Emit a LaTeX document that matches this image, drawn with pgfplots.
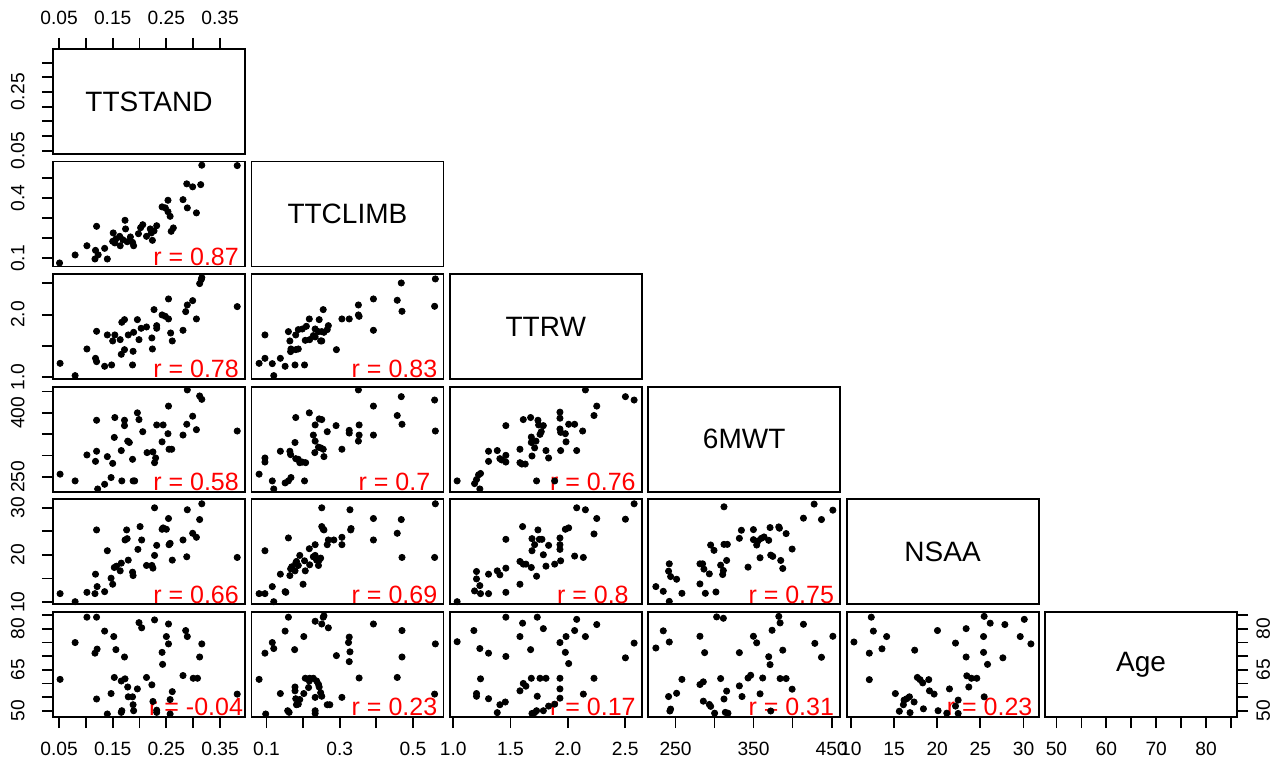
\documentclass[border=0pt]{standalone}
\usepackage{fontspec}
\setmainfont{Liberation Sans}
\usepackage{pgfplots}
\pgfplotsset{compat=1.18}
\pgfplotsset{
  base/.style={scale only axis, width=96pt, height=52.5pt, anchor=north west,
    axis line style={line width=0.9pt, black},
    every tick/.style={line width=0.9pt, black},
    tick align=outside, major tick length=5.5pt,
    xtick=\empty, ytick=\empty,
    tick label style={font=\fontsize{9.6}{11}\selectfont, inner sep=1pt}},
  lefty/.style={ytick pos=left, yticklabel pos=left, yticklabel shift=7.5pt, yticklabel style={rotate=90, anchor=south}},
  righty/.style={ytick pos=right, yticklabel pos=right, yticklabel shift=3pt, yticklabel style={rotate=90, anchor=north}},
  botx/.style={xtick pos=left, xticklabel pos=left, xticklabel shift=6pt, xticklabel style={anchor=north}},
  topx/.style={xtick pos=right, xticklabel pos=right, xticklabel shift=5.5pt, xticklabel style={anchor=south}},
  xTS/.style={xmin=0.0388, xmax=0.3965}, yTS/.style={ymin=0.0388, ymax=0.3965},
  xTC/.style={xmin=0.059, xmax=0.583}, yTC/.style={ymin=0.059, ymax=0.583},
  xTR/.style={xmin=0.97, xmax=2.645}, yTR/.style={ymin=0.97, ymax=2.645},
  xSM/.style={xmin=215, xmax=461}, ySM/.style={ymin=215, ymax=461},
  xNS/.style={xmin=9.5, xmax=31.75}, yNS/.style={ymin=9.5, ymax=31.75},
  xAG/.style={xmin=47.7, xmax=86.2}, yAG/.style={ymin=47.7, ymax=86.2},
  pts/.style={only marks, mark=*, mark size=1.55pt, black, mark options={draw=black, fill=black}},
}
\newcommand\rlab[1]{\node[anchor=base, text=red, font=\fontsize{12.5}{14}\selectfont, inner sep=0pt] at (rel axis cs:0.745,0.012) {r = #1};}
\newcommand\diag[1]{\node[font=\fontsize{14}{16}\selectfont] at (rel axis cs:0.5,0.5) {#1};}
\begin{document}
\begin{tikzpicture}
\path[use as bounding box] (0,0) rectangle (642.5pt,382.5pt);
% ---------------- row 1
\begin{axis}[base, at={(26.5pt,358pt)}, xTS, yTS, topx, lefty,
  xtick={0.05,0.1,0.15,0.2,0.25,0.3,0.35}, xticklabels={0.05,{},0.15,{},0.25,{},0.35},
  ytick={0.05,0.1,0.15,0.2,0.25,0.3,0.35}, yticklabels={0.05,{},{},{},0.25,{},{}}]
\diag{TTSTAND}
\end{axis}
% ---------------- row 2
\begin{axis}[base, at={(26.5pt,301.7pt)}, xTS, yTC, lefty,
  ytick={0.1,0.2,0.3,0.4,0.5}, yticklabels={0.1,{},{},0.4,{}}]
\addplot[pts] coordinates {(0.051,0.077)(0.080,0.117)(0.102,0.163)(0.120,0.260)(0.118,0.140)(0.117,0.097)(0.123,0.118)(0.135,0.150)(0.140,0.097)(0.151,0.227)(0.150,0.185)(0.156,0.197)(0.163,0.210)(0.164,0.163)(0.173,0.290)(0.174,0.247)(0.177,0.183)(0.183,0.207)(0.187,0.180)(0.189,0.163)(0.198,0.223)(0.202,0.253)(0.206,0.268)(0.213,0.210)(0.220,0.247)(0.224,0.190)(0.227,0.237)(0.232,0.263)(0.242,0.357)(0.248,0.352)(0.253,0.390)(0.253,0.333)(0.257,0.310)(0.259,0.235)(0.263,0.252)(0.281,0.393)(0.288,0.472)(0.289,0.352)(0.299,0.457)(0.306,0.327)(0.314,0.468)(0.316,0.565)(0.382,0.563)(0.154,0.177)(0.169,0.193)(0.222,0.227)};
\rlab{0.87}
\end{axis}
\begin{axis}[base, at={(125.7pt,301.7pt)}, xTC, yTC]
\diag{TTCLIMB}
\end{axis}
% ---------------- row 3
\begin{axis}[base, at={(26.5pt,245.4pt)}, xTS, yTR, lefty,
  ytick={1.0,1.5,2.0,2.5}, yticklabels={1.0,{},2.0,{}}]
\addplot[pts] coordinates {(0.052,1.223)(0.080,1.027)(0.102,1.452)(0.118,1.303)(0.120,1.250)(0.120,1.734)(0.135,1.176)(0.140,1.676)(0.148,1.197)(0.150,1.580)(0.154,1.676)(0.164,1.601)(0.166,1.367)(0.167,1.878)(0.172,1.920)(0.172,1.441)(0.179,1.676)(0.187,1.197)(0.188,1.415)(0.189,1.718)(0.196,1.920)(0.199,1.601)(0.203,1.782)(0.213,1.803)(0.223,1.628)(0.224,1.452)(0.227,2.080)(0.232,1.782)(0.232,1.824)(0.242,1.995)(0.248,1.973)(0.254,2.250)(0.254,1.931)(0.258,1.707)(0.261,1.580)(0.281,1.750)(0.286,2.048)(0.289,2.154)(0.299,2.223)(0.306,1.931)(0.312,2.495)(0.315,2.559)(0.316,2.590)(0.382,2.128)};
\rlab{0.78}
\end{axis}
\begin{axis}[base, at={(125.7pt,245.4pt)}, xTC, yTR]
\addplot[pts] coordinates {(0.080,1.223)(0.096,1.303)(0.096,1.676)(0.116,1.218)(0.120,1.027)(0.138,1.303)(0.151,1.176)(0.160,1.729)(0.164,1.580)(0.166,1.410)(0.167,1.452)(0.178,1.197)(0.180,1.676)(0.180,1.441)(0.187,1.452)(0.187,1.761)(0.198,1.771)(0.204,1.197)(0.206,1.590)(0.217,1.931)(0.209,1.814)(0.218,1.601)(0.228,1.665)(0.233,1.771)(0.233,1.644)(0.242,1.729)(0.244,1.920)(0.248,1.580)(0.251,1.580)(0.251,1.729)(0.255,2.080)(0.257,1.718)(0.266,1.761)(0.269,1.824)(0.291,1.441)(0.306,1.931)(0.326,1.931)(0.351,2.154)(0.351,1.995)(0.353,1.973)(0.392,2.250)(0.392,1.750)(0.457,2.229)(0.468,2.505)(0.470,2.053)(0.559,2.133)(0.561,2.569)};
\rlab{0.83}
\end{axis}
\begin{axis}[base, at={(224.9pt,245.4pt)}, xTR, yTR]
\diag{TTRW}
\end{axis}
% ---------------- row 4
\begin{axis}[base, at={(26.5pt,189.1pt)}, xTS, ySM, lefty,
  ytick={250,300,350,400,450}, yticklabels={250,{},{},400,{}}]
\addplot[pts] coordinates {(0.052,256.3)(0.080,240.5)(0.102,301.3)(0.118,286.3)(0.120,310.0)(0.120,382.6)(0.122,221.6)(0.135,232.6)(0.140,297.4)(0.147,248.4)(0.150,281.6)(0.153,342.4)(0.154,389.0)(0.166,311.6)(0.167,240.5)(0.172,382.6)(0.172,370.0)(0.178,333.7)(0.181,330.5)(0.187,291.1)(0.188,240.5)(0.191,240.5)(0.196,400.0)(0.199,384.2)(0.206,355.8)(0.214,306.8)(0.225,308.4)(0.228,283.2)(0.230,294.2)(0.232,371.6)(0.244,371.6)(0.242,332.1)(0.253,351.1)(0.254,415.8)(0.255,314.7)(0.260,314.7)(0.281,347.9)(0.288,373.2)(0.289,453.7)(0.299,392.1)(0.306,360.5)(0.312,439.5)(0.316,431.6)(0.382,357.4)};
\rlab{0.58}
\end{axis}
\begin{axis}[base, at={(125.7pt,189.1pt)}, xTC, ySM]
\addplot[pts] coordinates {(0.080,256.3)(0.096,294.2)(0.096,284.7)(0.116,240.5)(0.120,221.6)(0.138,310.0)(0.151,235.8)(0.160,240.5)(0.164,310.0)(0.166,302.1)(0.167,248.4)(0.178,330.5)(0.180,292.6)(0.180,389.0)(0.187,291.1)(0.191,283.2)(0.198,284.7)(0.204,240.5)(0.207,283.2)(0.217,400.0)(0.228,347.9)(0.232,306.8)(0.233,371.6)(0.233,333.7)(0.242,319.5)(0.244,385.8)(0.248,317.9)(0.251,384.2)(0.255,314.7)(0.257,297.4)(0.266,355.8)(0.290,370.0)(0.306,314.7)(0.326,359.0)(0.326,352.6)(0.353,347.9)(0.351,333.7)(0.353,371.6)(0.392,415.8)(0.392,347.9)(0.351,453.7)(0.457,393.7)(0.468,437.9)(0.470,373.2)(0.559,430.0)(0.561,357.4)};
\rlab{0.7}
\end{axis}
\begin{axis}[base, at={(224.9pt,189.1pt)}, xTR, ySM]
\addplot[pts] coordinates {(1.034,240.5)(1.186,234.2)(1.203,243.7)(1.221,254.7)(1.238,257.9)(1.232,221.6)(1.308,286.3)(1.308,310.0)(1.384,311.6)(1.407,292.6)(1.424,289.5)(1.459,300.5)(1.459,284.7)(1.459,370.0)(1.582,314.7)(1.582,283.2)(1.599,280.0)(1.611,384.2)(1.628,280.0)(1.675,389.0)(1.681,343.2)(1.681,330.5)(1.687,298.9)(1.710,317.9)(1.722,333.7)(1.739,382.6)(1.745,371.6)(1.757,349.5)(1.768,355.8)(1.786,370.0)(1.727,240.5)(1.809,311.6)(1.832,294.2)(1.885,240.5)(1.931,401.6)(1.931,387.4)(1.931,362.1)(1.937,354.2)(1.937,311.6)(1.978,351.1)(1.984,332.1)(2.007,373.2)(2.059,373.2)(2.077,311.6)(2.129,357.4)(2.153,453.7)(2.228,393.7)(2.252,415.8)(2.502,437.9)(2.578,430.0)};
\rlab{0.76}
\end{axis}
\begin{axis}[base, at={(324.1pt,189.1pt)}, xSM, ySM]
\diag{6MWT}
\end{axis}
% ---------------- row 5
\begin{axis}[base, at={(26.5pt,132.8pt)}, xTS, yNS, lefty,
  ytick={10,15,20,25,30}, yticklabels={10,{},20,{},30}]
\addplot[pts] coordinates {(0.052,11.78)(0.080,10.07)(0.102,12.06)(0.118,15.90)(0.117,11.78)(0.120,25.28)(0.121,13.27)(0.135,12.20)(0.140,20.87)(0.147,15.05)(0.150,13.77)(0.153,17.32)(0.157,17.60)(0.164,16.61)(0.166,18.24)(0.173,23.15)(0.176,25.28)(0.177,23.43)(0.179,18.88)(0.187,16.33)(0.188,15.61)(0.197,21.16)(0.201,25.99)(0.204,23.15)(0.213,17.75)(0.223,17.75)(0.225,17.18)(0.228,19.88)(0.228,29.97)(0.232,22.01)(0.242,25.42)(0.244,25.71)(0.250,25.42)(0.254,27.70)(0.255,22.15)(0.257,22.44)(0.261,18.88)(0.281,23.15)(0.288,19.59)(0.289,29.55)(0.299,24.57)(0.306,23.72)(0.312,27.48)(0.316,30.82)(0.382,19.45)};
\rlab{0.66}
\end{axis}
\begin{axis}[base, at={(125.7pt,132.8pt)}, xTC, yNS]
\addplot[pts] coordinates {(0.080,11.78)(0.096,11.78)(0.096,20.87)(0.116,13.27)(0.120,10.07)(0.138,15.90)(0.151,12.20)(0.153,12.06)(0.164,15.61)(0.160,23.58)(0.166,17.04)(0.169,17.46)(0.178,16.61)(0.180,18.24)(0.182,18.60)(0.187,17.75)(0.191,19.88)(0.200,13.77)(0.204,18.74)(0.206,16.61)(0.217,21.30)(0.218,17.89)(0.228,19.59)(0.233,22.15)(0.233,19.88)(0.237,18.88)(0.242,17.75)(0.244,18.88)(0.248,19.31)(0.251,25.99)(0.251,29.97)(0.255,25.42)(0.257,25.28)(0.266,22.15)(0.269,23.15)(0.284,23.15)(0.306,22.15)(0.306,23.72)(0.328,29.55)(0.330,25.28)(0.331,25.57)(0.392,27.70)(0.392,23.15)(0.457,24.57)(0.470,19.45)(0.468,27.48)(0.559,19.45)(0.561,30.82)};
\rlab{0.69}
\end{axis}
\begin{axis}[base, at={(224.9pt,132.8pt)}, xTR, yNS]
\addplot[pts] coordinates {(1.034,10.07)(1.186,12.35)(1.203,16.47)(1.203,14.90)(1.232,13.48)(1.238,11.78)(1.308,15.90)(1.308,11.78)(1.384,16.61)(1.407,15.76)(1.459,17.18)(1.459,12.06)(1.459,23.29)(1.582,13.77)(1.582,18.60)(1.605,25.99)(1.611,18.03)(1.634,18.03)(1.681,17.32)(1.687,23.43)(1.687,20.87)(1.710,22.15)(1.727,15.47)(1.739,25.28)(1.751,23.29)(1.774,23.29)(1.786,20.02)(1.809,17.60)(1.832,22.01)(1.885,18.03)(1.931,23.58)(1.931,22.15)(1.931,21.16)(1.937,18.74)(1.978,25.42)(2.007,25.71)(2.059,19.74)(2.077,29.97)(2.135,19.45)(2.153,29.55)(2.228,24.43)(2.252,27.70)(2.502,27.55)(2.578,30.82)};
\rlab{0.8}
\end{axis}
\begin{axis}[base, at={(324.1pt,132.8pt)}, xSM, yNS]
\addplot[pts] coordinates {(224.8,13.27)(234.3,12.27)(242.0,10.14)(242.0,18.10)(241.1,16.54)(243.7,15.40)(251.4,14.83)(258.2,11.85)(281.3,13.84)(281.3,18.10)(284.7,18.10)(286.4,16.97)(288.2,11.85)(293.3,15.97)(295.0,22.08)(299.3,20.95)(301.8,12.13)(307.8,17.82)(310.4,15.83)(311.3,16.68)(312.1,30.18)(312.1,22.22)(316.4,22.22)(315.5,18.81)(331.8,23.50)(334.4,25.21)(342.9,17.39)(349.8,25.35)(349.8,23.22)(354.0,22.08)(355.7,22.94)(358.3,19.38)(360.0,23.50)(363.4,23.79)(369.4,23.08)(371.1,25.78)(372.0,19.95)(374.6,19.67)(382.3,25.92)(383.1,25.64)(384.8,18.81)(387.4,17.11)(391.7,24.50)(399.4,21.23)(413.9,27.77)(427.6,30.75)(437.0,27.48)(451.6,29.47)};
\rlab{0.75}
\end{axis}
\begin{axis}[base, at={(423.3pt,132.8pt)}, xNS, yNS]
\diag{NSAA}
\end{axis}
% ---------------- row 6
\begin{axis}[base, at={(26.5pt,76.5pt)}, xTS, yAG, lefty, botx,
  xtick={0.05,0.1,0.15,0.2,0.25,0.3,0.35}, xticklabels={0.05,{},0.15,{},0.25,{},0.35},
  ytick={50,55,60,65,70,75,80,85}, yticklabels={50,{},{},65,{},{},80,{}}]
\addplot[pts] coordinates {(0.052,61.5)(0.080,75.0)(0.102,84.3)(0.120,84.3)(0.117,71.1)(0.121,72.6)(0.120,54.3)(0.135,79.2)(0.140,48.8)(0.147,56.3)(0.152,77.2)(0.153,62.2)(0.156,72.4)(0.166,60.9)(0.166,49.4)(0.167,50.0)(0.172,69.7)(0.173,61.7)(0.178,58.7)(0.179,55.1)(0.187,55.1)(0.188,52.2)(0.189,50.0)(0.196,58.0)(0.199,82.3)(0.204,80.4)(0.213,62.2)(0.223,59.5)(0.225,53.4)(0.228,83.3)(0.232,50.2)(0.232,49.4)(0.242,71.4)(0.243,67.0)(0.250,77.2)(0.254,74.5)(0.254,81.8)(0.257,54.1)(0.257,48.8)(0.261,57.0)(0.281,62.9)(0.286,79.4)(0.289,77.2)(0.300,61.9)(0.308,61.9)(0.312,69.7)(0.316,74.5)(0.382,56.1)};
\rlab{-0.04}
\end{axis}
\begin{axis}[base, at={(125.7pt,76.5pt)}, xTC, yAG, botx,
  xtick={0.1,0.2,0.3,0.4,0.5}, xticklabels={0.1,{},0.3,{},0.5}]
\addplot[pts] coordinates {(0.080,61.5)(0.096,71.1)(0.098,48.8)(0.116,75.0)(0.120,72.8)(0.138,56.3)(0.151,79.2)(0.158,50.0)(0.160,84.3)(0.162,49.4)(0.177,72.4)(0.178,58.7)(0.178,57.3)(0.180,54.4)(0.182,52.2)(0.187,52.4)(0.191,54.1)(0.202,77.2)(0.202,56.3)(0.206,61.9)(0.215,58.5)(0.217,60.9)(0.218,61.9)(0.228,61.9)(0.233,82.8)(0.233,54.9)(0.237,60.9)(0.242,59.7)(0.244,58.7)(0.248,56.6)(0.251,55.3)(0.251,81.8)(0.255,84.3)(0.257,84.8)(0.266,52.2)(0.269,80.4)(0.291,70.2)(0.306,54.9)(0.324,75.0)(0.326,77.0)(0.326,68.0)(0.328,71.6)(0.353,62.0)(0.392,81.8)(0.457,62.2)(0.470,69.7)(0.470,79.4)(0.559,56.1)(0.561,74.5)(0.233,50.0)(0.233,49.0)(0.273,52.2)};
\rlab{0.23}
\end{axis}
\begin{axis}[base, at={(224.9pt,76.5pt)}, xTR, yAG, botx,
  xtick={1.0,1.5,2.0,2.5}, xticklabels={1.0,1.5,2.0,2.5}]
\addplot[pts] coordinates {(1.034,75.3)(1.180,79.4)(1.232,72.8)(1.238,61.7)(1.203,56.3)(1.203,55.3)(1.308,71.1)(1.308,54.4)(1.384,49.3)(1.407,52.2)(1.454,53.2)(1.459,84.3)(1.459,69.9)(1.582,77.2)(1.582,57.3)(1.605,82.1)(1.611,60.0)(1.634,59.0)(1.675,72.4)(1.681,61.9)(1.687,49.0)(1.710,49.3)(1.727,50.0)(1.733,84.3)(1.733,55.3)(1.757,61.9)(1.786,80.1)(1.786,50.0)(1.809,61.9)(1.832,51.7)(1.885,52.4)(1.931,75.0)(1.931,61.9)(1.931,58.0)(1.931,54.6)(1.978,71.4)(1.984,77.2)(2.007,67.3)(2.059,79.4)(2.077,83.5)(2.153,77.2)(2.135,56.1)(2.228,61.9)(2.252,81.6)(2.502,69.4)(2.578,74.8)};
\rlab{0.17}
\end{axis}
\begin{axis}[base, at={(324.1pt,76.5pt)}, xSM, yAG, botx,
  xtick={250,300,350,400,450}, xticklabels={250,{},350,{},450}]
\addplot[pts] coordinates {(224.8,73.0)(234.3,79.3)(242.0,75.2)(241.1,55.2)(242.8,49.9)(243.7,50.6)(251.4,56.4)(258.2,61.5)(281.3,77.3)(281.3,59.6)(285.6,60.6)(287.3,71.3)(285.6,53.5)(293.3,52.3)(295.0,51.6)(300.1,49.1)(302.7,84.4)(307.8,61.8)(311.3,83.9)(312.1,54.3)(315.5,57.2)(313.8,49.4)(317.2,49.1)(331.8,71.3)(331.8,59.1)(335.2,55.2)(342.9,62.0)(346.3,63.0)(349.8,77.3)(354.0,74.9)(358.3,56.2)(361.7,62.0)(369.4,69.8)(371.1,66.9)(373.7,79.5)(372.0,49.9)(382.3,84.6)(384.0,82.2)(384.0,61.8)(387.4,72.2)(391.7,61.8)(399.4,57.9)(413.9,81.7)(428.5,74.7)(437.0,69.6)(451.6,77.3)};
\rlab{0.31}
\end{axis}
\begin{axis}[base, at={(423.3pt,76.5pt)}, xNS, yAG, botx,
  xtick={10,15,20,25,30}, xticklabels={10,15,20,25,30}]
\addplot[pts] coordinates {(10.35,75.2)(12.13,71.1)(12.13,61.4)(12.36,84.3)(12.60,79.2)(13.60,72.7)(14.14,77.2)(15.15,56.3)(15.61,49.8)(16.08,52.2)(16.16,53.9)(16.47,54.4)(16.78,55.1)(16.85,49.3)(17.32,53.2)(17.39,72.2)(17.70,62.2)(18.01,61.4)(18.32,60.2)(18.40,50.7)(19.02,61.4)(19.10,57.3)(19.64,56.1)(20.03,79.4)(20.10,50.0)(21.11,49.1)(21.42,58.0)(22.12,74.8)(22.12,51.7)(22.43,53.9)(22.43,49.0)(23.35,80.1)(23.35,69.7)(23.43,62.8)(23.66,58.7)(23.97,61.9)(24.59,61.9)(25.37,71.4)(25.37,77.2)(25.44,84.6)(25.44,55.1)(25.83,67.0)(26.14,82.1)(27.61,69.4)(27.84,81.6)(29.62,77.2)(30.09,83.5)(30.86,74.5)};
\rlab{0.23}
\end{axis}
\begin{axis}[base, at={(522.5pt,76.5pt)}, xAG, yAG, botx, righty,
  xtick={50,55,60,65,70,75,80,85}, xticklabels={50,{},60,{},70,{},80,{}},
  ytick={50,55,60,65,70,75,80,85}, yticklabels={50,{},{},65,{},{},80,{}}]
\diag{Age}
\end{axis}
\end{tikzpicture}
\end{document}
